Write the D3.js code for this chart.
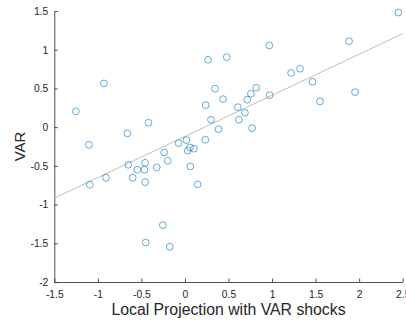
<!DOCTYPE html>
<meta charset="utf-8">
<script src="https://d3js.org/d3.v7.min.js"></script>
<style>
  body { margin: 0; background: #fff; }
  text { font-family: "Liberation Sans", Arial, sans-serif; }
</style>
<div id="chart"></div>
<script>

// local projection estimates (x) against VAR estimates (y)
var lpValues = [2.45, 1.884, 0.968, 1.218, 1.322, 1.464, 0.973, 1.55, 1.953, 0.265,
  0.48, 0.345, 0.438, 0.238, 0.607, 0.715, 0.757, 0.818, 0.688, 0.619,
  0.299, 0.385, 0.772, -0.419, 0.016, -0.073, 0.235, 0.057, 0.103, 0.031,
  -0.238, -0.197, -0.457, -0.546, -0.465, -0.324, 0.062, -0.6, -0.457, 0.146,
  -0.65, -1.253, -1.103, -0.661, -0.907, -1.092, -0.93, -0.254, -0.45, -0.174];
var varValues = [1.48, 1.11, 1.055, 0.70, 0.754, 0.586, 0.413, 0.332, 0.452, 0.871,
  0.904, 0.496, 0.362, 0.284, 0.258, 0.354, 0.431, 0.509, 0.186, 0.096,
  0.096, -0.026, -0.013, 0.057, -0.168, -0.207, -0.163, -0.262, -0.279, -0.305,
  -0.327, -0.434, -0.46, -0.55, -0.55, -0.521, -0.508, -0.654, -0.71, -0.74,
  -0.486, 0.203, -0.228, -0.081, -0.654, -0.744, 0.565, -1.266, -1.49, -1.545];

// fitted line end points
var fitX = [-1.5, 2.5];
var fitY = [-0.917, 1.207];

var xTicks = [-1.5, -1, -0.5, 0, 0.5, 1, 1.5, 2, 2.5];
var yTicks = [-2, -1.5, -1, -0.5, 0, 0.5, 1, 1.5];

var width = 406, height = 326;
var margin = {left: 54.3, top: 11, right: 3.3, bottom: 44};

var svg = d3.select("#chart")
  .append("svg")
    .attr("width", width)
    .attr("height", height);

var x = d3.scaleLinear().domain([-1.5, 2.5]).range([margin.left, width - margin.right]);
var y = d3.scaleLinear().domain([-2, 1.5]).range([height - margin.bottom, margin.top]);

var ink = "#262626";
var plain = function(d) { return String(d); }; // hyphen minus like the original

// axes, ticks pointing inward like matlab
var xAxis = svg.append("g")
  .attr("transform", "translate(0," + y(-2) + ")")
  .call(d3.axisBottom(x).tickValues(xTicks).tickSizeInner(-3.5).tickSizeOuter(0)
    .tickPadding(7).tickFormat(plain));

var yAxis = svg.append("g")
  .attr("transform", "translate(" + x(-1.5) + ",0)")
  .call(d3.axisLeft(y).tickValues(yTicks).tickSizeInner(-3.5).tickSizeOuter(0)
    .tickPadding(6).tickFormat(plain));

[xAxis, yAxis].forEach(function(g) {
  g.select(".domain").attr("stroke", ink).attr("stroke-width", 0.8);
  g.selectAll(".tick line").attr("stroke", ink).attr("stroke-width", 0.8);
  g.selectAll(".tick text").attr("fill", ink).style("font-size", "10.3px");
});
xAxis.selectAll(".tick text").attr("dy", "0.9em");

// fit line
svg.append("line")
  .attr("x1", x(fitX[0])).attr("y1", y(fitY[0]))
  .attr("x2", x(fitX[1])).attr("y2", y(fitY[1]))
  .attr("stroke", "#bfbfbf")
  .attr("stroke-width", 1);

// scatter
svg.append("g")
  .selectAll("circle")
  .data(lpValues)
  .enter()
  .append("circle")
    .attr("cx", function(d) { return x(d); })
    .attr("cy", function(d, i) { return y(varValues[i]); })
    .attr("r", 3.4)
    .attr("fill", "none")
    .attr("stroke", "#0072BD")
    .attr("stroke-width", 0.6);

// labels
svg.append("text")
  .attr("x", (x(-1.5) + x(2.5)) / 2)
  .attr("y", 315)
  .attr("text-anchor", "middle")
  .attr("fill", ink)
  .style("font-size", "15.8px")
  .text("Local Projection with VAR shocks");

svg.append("text")
  .attr("transform", "translate(24.5," + (y(-2) + y(1.5)) / 2 + ") rotate(-90)")
  .attr("text-anchor", "middle")
  .attr("fill", ink)
  .style("font-size", "15px")
  .text("VAR");

</script>
